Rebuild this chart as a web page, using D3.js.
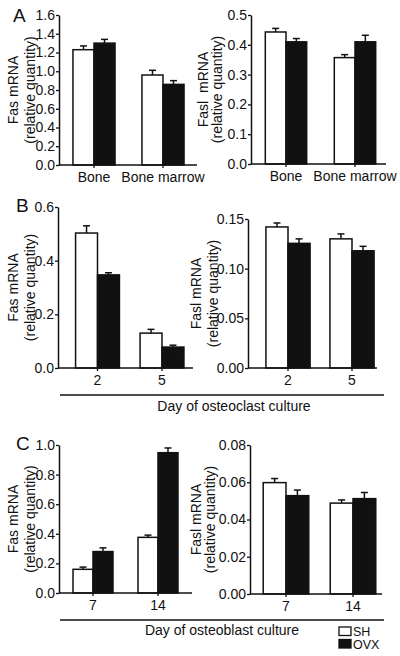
<!DOCTYPE html>
<html><head><meta charset="utf-8">
<script src="https://cdn.jsdelivr.net/npm/d3@7"></script>
<style>body{margin:0;background:#fff}svg{display:block}text{font-family:Arial,"Liberation Sans",sans-serif;fill:#111}</style>
</head><body>
<script>
// ---- data ----
const series = ["SH", "OVX"];
const catsA = ["Bone", "Bone marrow"];
const catsB = ["2", "5"];
const catsC = ["7", "14"];
const fasA = [1.23, 1.30, 0.96, 0.86];      // SH bone, OVX bone, SH marrow, OVX marrow
const fasAerr = [0.04, 0.04, 0.05, 0.04];
const faslA = [0.443, 0.41, 0.357, 0.41];
const faslAerr = [0.012, 0.011, 0.010, 0.022];
const fasB = [0.503, 0.347, 0.13, 0.078];
const fasBerr = [0.027, 0.008, 0.014, 0.007];
const faslB = [0.142, 0.1255, 0.130, 0.118];
const faslBerr = [0.004, 0.0045, 0.005, 0.0045];
const fasC = [0.16, 0.28, 0.376, 0.948];
const fasCerr = [0.015, 0.025, 0.015, 0.032];
const faslC = [0.0598, 0.0528, 0.0488, 0.0512];
const faslCerr = [0.0022, 0.003, 0.0017, 0.0033];
const ticksA1 = [0, 0.2, 0.4, 0.6, 0.8, 1.0, 1.2, 1.4, 1.6];
const ticksA2 = [0, 0.1, 0.2, 0.3, 0.4, 0.5];
const ticksB1 = [0, 0.2, 0.4, 0.6];
const ticksB2 = [0, 0.05, 0.10, 0.15];
const ticksC1 = [0, 0.2, 0.4, 0.6, 0.8, 1.0];
const ticksC2 = [0, 0.02, 0.04, 0.06, 0.08];

// ---- layout ----
const W = 400, H = 656;
const svg = d3.select("body").append("svg").attr("width", W).attr("height", H);
const colors = {SH: "#fff", OVX: "#111"};

const panels = [
  {cats: catsA, vals: fasA, errs: fasAerr, ticks: ticksA1, fmt: ".1f", ax: 59, xend: 197, band: [59.5, 197.5], pin: 0.39, y0: 165, y1: 15, lab: "Fas mRNA", l1: 13, l2: 30},
  {cats: catsA, vals: faslA, errs: faslAerr, ticks: ticksA2, fmt: ".1f", ax: 251, xend: 386, band: [251.5, 389.5], pin: 0.40, y0: 164, y1: 15, lab: "Fasl  mRNA", l1: 203, l2: 217},
  {cats: catsB, vals: fasB, errs: fasBerr, ticks: ticksB1, fmt: ".1f", ax: 58, xend: 193, band: [65.25, 194.25], pin: 0.32, y0: 368, y1: 207, lab: "Fas mRNA", l1: 13, l2: 30},
  {cats: catsB, vals: faslB, errs: faslBerr, ticks: ticksB2, fmt: ".2f", ax: 248, xend: 377, band: [256, 384], pin: 0.31, y0: 368, y1: 219, lab: "Fasl mRNA", l1: 196, l2: 213},
  {cats: catsC, vals: fasC, errs: fasCerr, ticks: ticksC1, fmt: ".1f", ax: 59, xend: 192, band: [60.5, 190.5], pin: 0.385, y0: 593, y1: 445, lab: "Fas mRNA", l1: 13, l2: 30},
  {cats: catsC, vals: faslC, errs: faslCerr, ticks: ticksC2, fmt: ".2f", ax: 250, xend: 382, band: [252.5, 386.5], pin: 0.32, y0: 594, y1: 445, lab: "Fasl mRNA", l1: 196, l2: 210},
];

const FS = 14;
panels.forEach(p => {
  const g = svg.append("g");
  const x = d3.scaleBand().domain(p.cats).range(p.band).paddingInner(p.pin).paddingOuter(p.pin / 2);
  const xi = d3.scaleBand().domain(series).range([0, x.bandwidth()]);
  const y = d3.scaleLinear().domain([0, d3.max(p.ticks)]).range([p.y0, p.y1]);
  const rows = [];
  p.cats.forEach((c, i) => series.forEach((s, j) => rows.push({c, s, v: p.vals[i * 2 + j], e: p.errs[i * 2 + j]})));

  // error bars
  rows.forEach(d => {
    const cx = x(d.c) + xi(d.s) + xi.bandwidth() / 2;
    g.append("line").attr("x1", cx).attr("x2", cx).attr("y1", y(d.v)).attr("y2", y(d.v + d.e)).attr("stroke", "#111").attr("stroke-width", 1.5);
    g.append("line").attr("x1", cx - 3.5).attr("x2", cx + 3.5).attr("y1", y(d.v + d.e)).attr("y2", y(d.v + d.e)).attr("stroke", "#111").attr("stroke-width", 1.5);
  });
  // bars
  g.selectAll("rect.bar").data(rows).join("rect").attr("class", "bar")
    .attr("x", d => x(d.c) + xi(d.s))
    .attr("width", xi.bandwidth())
    .attr("y", d => y(d.v))
    .attr("height", d => y(0) - y(d.v))
    .attr("fill", d => colors[d.s]).attr("stroke", "#111").attr("stroke-width", 1.5);

  // y axis
  const ya = g.append("g").attr("transform", `translate(${p.ax},0)`)
    .call(d3.axisLeft(y).tickValues(p.ticks).tickFormat(d3.format(p.fmt)).tickSize(3).tickSizeOuter(0));
  ya.select(".domain").attr("stroke", "#111").attr("stroke-width", 1.5);
  ya.selectAll(".tick line").attr("stroke", "#111").attr("stroke-width", 1.3);
  ya.selectAll("text").attr("font-size", FS).attr("fill", "#111").attr("x", -4).attr("font-family", "Arial, 'Liberation Sans', sans-serif");

  // x baseline + ticks
  g.append("line").attr("x1", p.ax).attr("x2", p.xend).attr("y1", p.y0).attr("y2", p.y0).attr("stroke", "#111").attr("stroke-width", 1.5);
  p.cats.forEach(c => {
    const cx = x(c) + x.bandwidth() / 2;
    g.append("line").attr("x1", cx).attr("x2", cx).attr("y1", p.y0).attr("y2", p.y0 + 3).attr("stroke", "#111").attr("stroke-width", 1.3);
    g.append("text").attr("x", cx).attr("y", p.y0 + 17).attr("text-anchor", "middle").attr("font-size", FS).text(c);
  });

  // y label
  const yc = (p.y0 + p.y1) / 2;
  g.append("text").attr("transform", `translate(${p.l1},${yc}) rotate(-90)`).attr("text-anchor", "middle").attr("dy", "0.35em").attr("font-size", FS).style("white-space", "pre").text(p.lab);
  g.append("text").attr("transform", `translate(${p.l2},${yc}) rotate(-90)`).attr("text-anchor", "middle").attr("dy", "0.35em").attr("font-size", FS).text("(relative quantity)");
});

// panel letters
[["A", 13, 22], ["B", 16, 212], ["C", 16, 450]].forEach(([t, lx, ly]) =>
  svg.append("text").attr("x", lx).attr("y", ly).attr("font-size", 19).text(t));

// day lines
[[395, 411, 234, "Day of osteoclast culture"], [620, 635, 222, "Day of osteoblast culture"]].forEach(([ly, ty, tx, t]) => {
  svg.append("line").attr("x1", 60).attr("x2", 384).attr("y1", ly).attr("y2", ly).attr("stroke", "#111").attr("stroke-width", 1.5);
  svg.append("text").attr("x", tx).attr("y", ty).attr("text-anchor", "middle").attr("font-size", FS).text(t);
});

// legend
series.forEach((s, i) => {
  const ly = 627 + i * 12.5;
  svg.append("rect").attr("x", 339).attr("y", ly).attr("width", 12).attr("height", 8.5).attr("fill", colors[s]).attr("stroke", "#111").attr("stroke-width", 1.3);
  svg.append("text").attr("x", 353).attr("y", ly + 9).attr("font-size", 12.5).text(s);
});
</script>
</body></html>
